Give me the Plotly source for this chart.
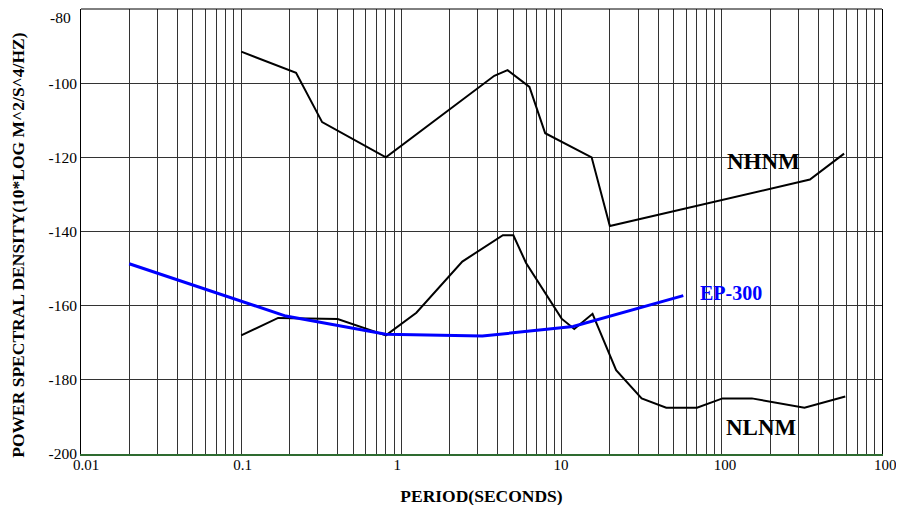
import math
import plotly.graph_objects as go

# ---- data ----
nhnm_period = [0.1, 0.22, 0.32, 0.8, 3.8, 4.6, 6.3, 7.9, 15.4, 20.0, 354.8, 580]
nhnm_psd = [-91.5, -97.2, -110.5, -120.0, -98.0, -96.5, -101.0, -113.5, -120.0, -138.5, -126.0, -119.0]

nlnm_period = [0.1, 0.17, 0.4, 0.8, 1.24, 2.4, 4.3, 5.0, 6.0, 10.0, 12.0, 15.6, 21.9,
               31.6, 45.0, 70.0, 101.0, 154.0, 328.0, 590]
nlnm_psd = [-168.0, -163.3, -163.6, -168.0, -161.9, -148.1, -141.0, -141.0, -148.5,
            -163.5, -166.3, -162.2, -177.4, -185.0, -187.5, -187.5, -185.0, -185.0,
            -187.5, -184.5]

ep_period = [0.02, 0.19, 0.8, 3.2, 11.8, 57.5]
ep_psd = [-148.7, -162.8, -167.7, -168.2, -165.6, -157.3]

x_tickvals = [0.01, 0.1, 1, 10, 100, 1000]
x_ticktext = ["0.01", "0.1", "1", "10", "100", "1000"]
y_tickvals = [-200, -180, -160, -140, -120, -100, -80]
y_ticktext = ["-200", "-180", "-160", "-140", "-120", "-100", ""]
y_top_label = "-80"

labels = [("NHNM", 181, -121.1, "center", "black", 23),
          ("NLNM", 178, -192.9, "center", "black", 23),
          ("EP-300", 71, -156.6, "left", "#0000ff", 20)]

minor_vals = [d * 10 ** e for e in range(-2, 3) for d in range(2, 10)]

FONT = "Liberation Serif"
GRID = "#333333"

fig = go.Figure()
fig.add_trace(go.Scatter(x=nhnm_period, y=nhnm_psd, mode="lines", name="NHNM",
                         line=dict(color="black", width=2)))
fig.add_trace(go.Scatter(x=nlnm_period, y=nlnm_psd, mode="lines", name="NLNM",
                         line=dict(color="black", width=2)))
fig.add_trace(go.Scatter(x=ep_period, y=ep_psd, mode="lines", name="EP-300",
                         line=dict(color="#0000ff", width=3)))

for text, x, y, anchor, color, size in labels:
    fig.add_annotation(x=math.log10(x), y=y, xref="x", yref="y", text="<b>%s</b>" % text,
                       showarrow=False, xanchor=anchor, yanchor="middle",
                       font=dict(family=FONT, size=size, color=color))

# top y tick label (sits just under the top edge)
fig.add_annotation(x=-0.0412, y=-80, xref="paper", yref="y", text=y_top_label,
                   showarrow=False, xanchor="left", yanchor="middle", yshift=-8.5,
                   font=dict(family=FONT, size=15.5, color="black"))

# y-axis title
fig.add_annotation(x=-0.0787, y=0.47, xref="paper", yref="paper",
                   text="<b>POWER SPECTRAL DENSITY(10*LOG M^2/S^4/HZ)</b>",
                   textangle=-90, showarrow=False, xanchor="center", yanchor="middle",
                   font=dict(family=FONT, size=17.5, color="black"))

# top border
fig.add_shape(type="line", xref="paper", yref="paper", x0=0, x1=1, y0=1, y1=1,
              line=dict(color="black", width=1))

fig.update_layout(
    width=904, height=505,
    margin=dict(l=73, r=30, t=1, b=59),
    paper_bgcolor="white", plot_bgcolor="white",
    showlegend=False,
    font=dict(family=FONT, color="black"),
    xaxis=dict(type="log", range=[-2, 3], tickmode="array",
               tickvals=x_tickvals, ticktext=x_ticktext,
               ticklabelposition="outside right", ticklabelshift=-9,
               ticklabelstandoff=-4, automargin=False,
               tickfont=dict(family=FONT, size=15, color="black"),
               showgrid=True, gridcolor=GRID, gridwidth=1,
               minor=dict(tickmode="array", tickvals=minor_vals, showgrid=True,
                          gridcolor=GRID, gridwidth=1, ticks=""),
               showline=True, linecolor="#2e6b30", linewidth=2, mirror=False,
               ticks="", zeroline=False,
               title=dict(text="<b>PERIOD(SECONDS)</b>", standoff=18,
                          font=dict(family=FONT, size=17.5, color="black"))),
    yaxis=dict(range=[-200, -80], tickmode="array",
               tickvals=y_tickvals, ticktext=y_ticktext, automargin=False,
               tickfont=dict(family=FONT, size=15.5, color="black"),
               showgrid=True, gridcolor=GRID, gridwidth=1,
               showline=True, linecolor="black", linewidth=1, mirror=True,
               ticks="", zeroline=False, ticklabelstandoff=0),
)

fig.write_html("out.html")
